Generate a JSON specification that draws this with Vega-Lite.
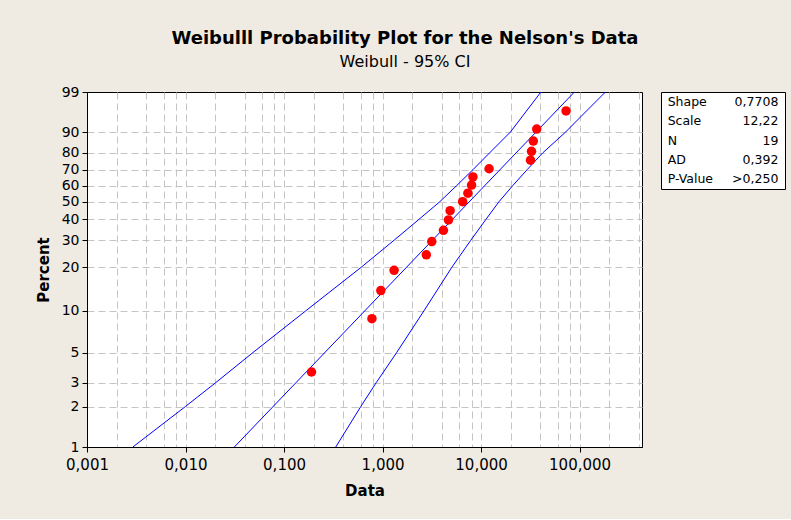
{
  "$schema": "https://vega.github.io/schema/vega-lite/v6.json",
  "autosize": {"type": "pad"},
  "padding": {"left": 35, "top": 29, "right": 6, "bottom": 20},
  "background": "#efebe2",
  "config": {
    "font": "DejaVu Sans",
    "view": {"stroke": "black", "strokeWidth": 1},
    "axis": {"labelColor": "black", "titleColor": "black", "domainColor": "black", "tickColor": "black", "labelFont": "DejaVu Sans", "titleFont": "DejaVu Sans"}
  },
  "title": {
    "text": "Weibulll Probability Plot for the Nelson's Data",
    "subtitle": "Weibull - 95% CI",
    "font": "DejaVu Sans",
    "fontSize": 18,
    "fontWeight": "bold",
    "color": "black",
    "subtitleFont": "DejaVu Sans",
    "subtitleFontSize": 16,
    "subtitleColor": "black",
    "subtitlePadding": 6,
    "anchor": "start",
    "align": "center",
    "frame": "group",
    "dx": 318,
    "offset": 15
  },
  "datasets": {
    "points": [
      {"x": 0.19, "p": 3.6}, {"x": 0.78, "p": 8.8}, {"x": 0.96, "p": 13.9}, {"x": 1.31, "p": 19.1},
      {"x": 2.78, "p": 24.2}, {"x": 3.16, "p": 29.4}, {"x": 4.15, "p": 34.5}, {"x": 4.67, "p": 39.7},
      {"x": 4.85, "p": 44.8}, {"x": 6.5, "p": 50.0}, {"x": 7.35, "p": 55.2}, {"x": 8.01, "p": 60.3},
      {"x": 8.27, "p": 65.5}, {"x": 12.06, "p": 70.6}, {"x": 31.75, "p": 75.8}, {"x": 32.52, "p": 80.9},
      {"x": 33.91, "p": 86.1}, {"x": 36.71, "p": 91.2}, {"x": 72.89, "p": 96.4}
    ],
    "bands": [
      {"series": "fit", "x": 0.0313, "p": 1}, {"series": "fit", "x": 88.6, "p": 99},
      {"series": "upper", "x": 0.00292, "p": 1}, {"series": "upper", "x": 0.00997, "p": 2},
      {"series": "upper", "x": 0.0202, "p": 3}, {"series": "upper", "x": 0.0483, "p": 5},
      {"series": "upper", "x": 0.166, "p": 10}, {"series": "upper", "x": 0.605, "p": 20},
      {"series": "upper", "x": 1.31, "p": 30}, {"series": "upper", "x": 2.34, "p": 40},
      {"series": "upper", "x": 3.81, "p": 50}, {"series": "upper", "x": 5.66, "p": 60},
      {"series": "upper", "x": 8.26, "p": 70}, {"series": "upper", "x": 12.2, "p": 80},
      {"series": "upper", "x": 19.8, "p": 90}, {"series": "upper", "x": 26.0, "p": 95},
      {"series": "upper", "x": 40.5, "p": 99},
      {"series": "lower", "x": 0.335, "p": 1}, {"series": "lower", "x": 0.601, "p": 2},
      {"series": "lower", "x": 0.861, "p": 3}, {"series": "lower", "x": 1.39, "p": 5},
      {"series": "lower", "x": 2.63, "p": 10}, {"series": "lower", "x": 5.04, "p": 20},
      {"series": "lower", "x": 7.87, "p": 30}, {"series": "lower", "x": 11.2, "p": 40},
      {"series": "lower", "x": 15.2, "p": 50}, {"series": "lower", "x": 21.0, "p": 60},
      {"series": "lower", "x": 29.3, "p": 70}, {"series": "lower", "x": 42.2, "p": 80},
      {"series": "lower", "x": 71.9, "p": 90}, {"series": "lower", "x": 102.4, "p": 95},
      {"series": "lower", "x": 183, "p": 99}
    ],
    "stats": [
      {"stat": "Shape", "value": "0,7708"},
      {"stat": "Scale", "value": "12,22"},
      {"stat": "N", "value": "19"},
      {"stat": "AD", "value": "0,392"},
      {"stat": "P-Value", "value": ">0,250"}
    ]
  },
  "spacing": 19,
  "bounds": "flush",
  "hconcat": [
    {
      "width": 555,
      "height": 355,
      "view": {"fill": "white", "stroke": "black", "strokeWidth": 1},
      "encoding": {
        "x": {
          "field": "x", "type": "quantitative", "title": "Data",
          "scale": {"type": "log", "domain": [0.001, 430], "nice": false},
          "axis": {
            "values": [0.001, 0.002, 0.004, 0.006, 0.008, 0.01, 0.02, 0.04, 0.06, 0.08, 0.1, 0.2, 0.4, 0.6, 0.8, 1, 2, 4, 6, 8, 10, 20, 40, 60, 80, 100, 200, 400],
            "labelExpr": "abs(log(datum.value)/LN10 - round(log(datum.value)/LN10)) < 0.001 ? replace(format(datum.value, '.3f'), '.', ',') : ''",
            "tickOpacity": {"condition": {"test": "abs(log(datum.value)/LN10 - round(log(datum.value)/LN10)) < 0.001", "value": 1}, "value": 0},
            "gridOpacity": {"condition": {"test": "datum.value < 0.0015", "value": 0}, "value": 1},
            "tickSize": 5,
            "labelFontSize": 15,
            "labelPadding": 5,
            "labelFlush": false,
            "labelOverlap": false,
            "titleFontSize": 15,
            "titleFontWeight": "bold",
            "titlePadding": 11,
            "grid": true,
            "gridColor": "#c4c4c4",
            "gridDash": [7, 4],
            "gridWidth": 1
          }
        },
        "y": {
          "field": "z", "type": "quantitative", "title": "Percent",
          "scale": {"domain": [-4.60015, 1.52718], "nice": false, "zero": false},
          "axis": {
            "values": [-4.60015, -3.90194, -3.49137, -2.9702, -2.25037, -1.49994, -1.03093, -0.67165, -0.36651, -0.08742, 0.18563, 0.47588, 0.83403, 1.52718],
            "labelExpr": "round(100 * (1 - exp(-exp(datum.value))))",
            "gridOpacity": {"condition": {"test": "datum.value > 1.5 || datum.value < -4.5", "value": 0}, "value": 1},
            "tickSize": 5,
            "labelFontSize": 14,
            "labelPadding": 3,
            "labelOverlap": false,
            "titleFontSize": 15,
            "titleFontWeight": "bold",
            "titlePadding": 10,
            "grid": true,
            "gridColor": "#c4c4c4",
            "gridDash": [7, 4],
            "gridWidth": 1
          }
        }
      },
      "layer": [
        {
          "data": {"name": "bands"},
          "transform": [{"calculate": "log(-log(1 - datum.p / 100))", "as": "z"}],
          "mark": {"type": "line", "color": "#0000ff", "strokeWidth": 1, "clip": true},
          "encoding": {
            "detail": {"field": "series", "type": "nominal"},
            "order": {"field": "p", "type": "quantitative"}
          }
        },
        {
          "data": {"name": "points"},
          "transform": [{"calculate": "log(-log(1 - datum.p / 100))", "as": "z"}],
          "mark": {"type": "circle", "color": "#ff0000", "opacity": 1, "size": 90},
          "encoding": {}
        }
      ]
    },
    {
      "width": 124,
      "height": 97,
      "data": {"name": "stats"},
      "view": {"fill": "white", "stroke": "black", "strokeWidth": 1},
      "encoding": {
        "y": {"field": "stat", "type": "nominal", "sort": null, "axis": null, "scale": {"type": "point", "padding": 0.5}}
      },
      "layer": [
        {
          "mark": {"type": "text", "align": "left", "fontSize": 12.5, "color": "black"},
          "encoding": {
            "x": {"datum": "label", "type": "nominal", "axis": null, "scale": {"type": "point", "domain": ["label", "value"], "padding": 0.06}},
            "text": {"field": "stat"}
          }
        },
        {
          "mark": {"type": "text", "align": "right", "fontSize": 12.5, "color": "black"},
          "encoding": {
            "x": {"datum": "value", "type": "nominal"},
            "text": {"field": "value"}
          }
        }
      ]
    }
  ]
}
